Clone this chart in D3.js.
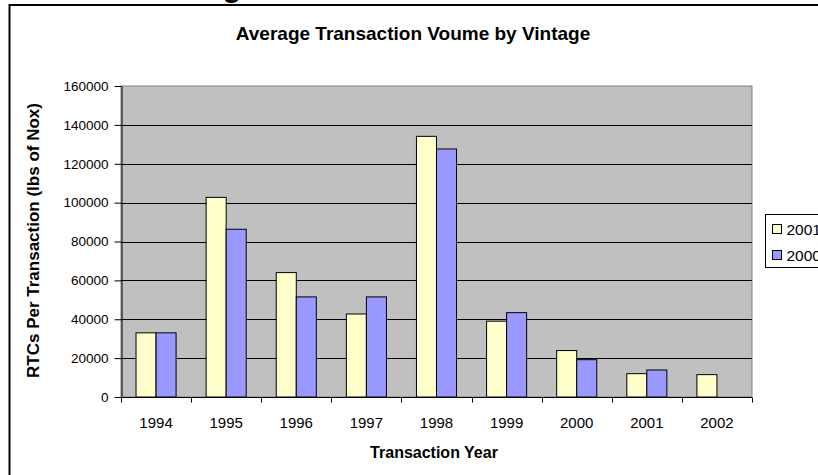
<!DOCTYPE html>
<html>
<head>
<meta charset="utf-8">
<script src="https://cdn.jsdelivr.net/npm/d3@7"></script>
<style>
  html, body { margin: 0; padding: 0; background: #fff; }
  svg { display: block; font-family: "Liberation Sans", Arial, sans-serif; }
</style>
</head>
<body>
<svg id="chart" width="818" height="475"></svg>
<script>
// Transaction years on the x axis
const years = ["1994", "1995", "1996", "1997", "1998", "1999", "2000", "2001", "2002"];
// Vintage series (legend order)
const seriesNames = ["2001", "2000"];
// Average RTCs per transaction (lbs of NOx) for each vintage
const vintage2001 = [33000, 102700, 64000, 42700, 134100, 39000, 23900, 12000, 11500];
const vintage2000 = [33000, 86300, 51500, 51500, 127600, 43400, 19200, 13900, null];
const yTicks = [0, 20000, 40000, 60000, 80000, 100000, 120000, 140000, 160000];
const seriesColors = ["#FFFFCC", "#9999FF"];

const svg = d3.select("#chart");
const plot = { left: 121, top: 86, right: 752, bottom: 397 };

// Fragment of a large heading above the frame
svg.append("text")
  .attr("x", 232).attr("y", -3)
  .attr("text-anchor", "middle")
  .attr("font-size", 30).attr("font-weight", "bold")
  .text("g");

// Chart frame
svg.append("rect")
  .attr("x", 9.5).attr("y", 5)
  .attr("width", 900).attr("height", 600)
  .attr("fill", "none").attr("stroke", "#000").attr("stroke-width", 2);

const x = d3.scaleBand().domain(years).range([plot.left, plot.right]);
const y = d3.scaleLinear().domain([0, 160000]).range([plot.bottom, plot.top]);

// Grey plot area
svg.append("rect")
  .attr("x", plot.left).attr("y", plot.top)
  .attr("width", plot.right - plot.left).attr("height", plot.bottom - plot.top)
  .attr("fill", "#C0C0C0").attr("stroke", "#808080").attr("stroke-width", 1);

// Horizontal gridlines
svg.append("g").selectAll("line")
  .data(yTicks.filter(d => d > 0 && d < 160000))
  .join("line")
  .attr("x1", plot.left).attr("x2", plot.right)
  .attr("y1", d => Math.round(y(d)) + 0.5).attr("y2", d => Math.round(y(d)) + 0.5)
  .attr("stroke", "#000").attr("stroke-width", 1);

// Bars: gap width 150% of a bar
const barW = x.bandwidth() / 3.5;
const rows = years.map((yr, i) => ({ yr, vals: [vintage2001[i], vintage2000[i]] }));
const groups = svg.append("g").selectAll("g")
  .data(rows).join("g")
  .attr("transform", d => `translate(${x(d.yr) + x.bandwidth() / 2 - barW},0)`);
groups.selectAll("rect")
  .data(d => d.vals.map((v, s) => ({ v, s })).filter(e => e.v != null))
  .join("rect")
  .attr("x", d => d.s * barW)
  .attr("y", d => y(d.v))
  .attr("width", barW)
  .attr("height", d => y(0) - y(d.v))
  .attr("fill", d => seriesColors[d.s])
  .attr("stroke", "#000").attr("stroke-width", 1);

// Y axis
const yAxis = svg.append("g")
  .attr("transform", `translate(${plot.left + 0.5},0)`)
  .call(d3.axisLeft(y).tickValues(yTicks).tickFormat(d3.format("d")).tickSize(7).tickSizeOuter(0));
yAxis.select(".domain").attr("stroke", "#000");
yAxis.selectAll(".tick text").attr("font-size", 13.5).attr("fill", "#000")
  .attr("font-family", "Liberation Sans, Arial, sans-serif").attr("x", -13);

// X axis with ticks between categories
const xAxisG = svg.append("g").attr("transform", `translate(0,${plot.bottom + 0.5})`);
xAxisG.append("line")
  .attr("x1", plot.left).attr("x2", plot.right)
  .attr("stroke", "#000");
xAxisG.selectAll("line.tk")
  .data(years.map(d => x(d)).concat([plot.right]))
  .join("line").attr("class", "tk")
  .attr("x1", d => Math.round(d) + 0.5).attr("x2", d => Math.round(d) + 0.5)
  .attr("y1", 0).attr("y2", 5)
  .attr("stroke", "#000");
xAxisG.selectAll("text")
  .data(years).join("text")
  .attr("x", d => x(d) + x.bandwidth() / 2)
  .attr("y", 30)
  .attr("text-anchor", "middle")
  .attr("font-size", 15)
  .text(d => d);

// Titles
svg.append("text")
  .attr("x", 413).attr("y", 40)
  .attr("text-anchor", "middle")
  .attr("font-size", 19).attr("font-weight", "bold")
  .text("Average Transaction Voume by Vintage");

svg.append("text")
  .attr("x", 434).attr("y", 458)
  .attr("text-anchor", "middle")
  .attr("font-size", 16).attr("font-weight", "bold")
  .text("Transaction Year");

svg.append("text")
  .attr("transform", `translate(39,${(plot.top + plot.bottom) / 2 - 1}) rotate(-90)`)
  .attr("text-anchor", "middle")
  .attr("font-size", 17).attr("font-weight", "bold")
  .text("RTCs Per Transaction (lbs of Nox)");

// Legend
const legend = svg.append("g").attr("transform", "translate(765.5,214.5)");
legend.append("rect")
  .attr("width", 80).attr("height", 53)
  .attr("fill", "#fff").attr("stroke", "#000");
const items = legend.selectAll("g.item")
  .data(seriesNames).join("g").attr("class", "item")
  .attr("transform", (d, i) => `translate(7,${10 + i * 26})`);
items.append("rect")
  .attr("width", 9).attr("height", 9)
  .attr("fill", (d, i) => seriesColors[i]).attr("stroke", "#000");
items.append("text")
  .attr("x", 14).attr("y", 10.5)
  .attr("font-size", 15.5)
  .text(d => d);
</script>
</body>
</html>
